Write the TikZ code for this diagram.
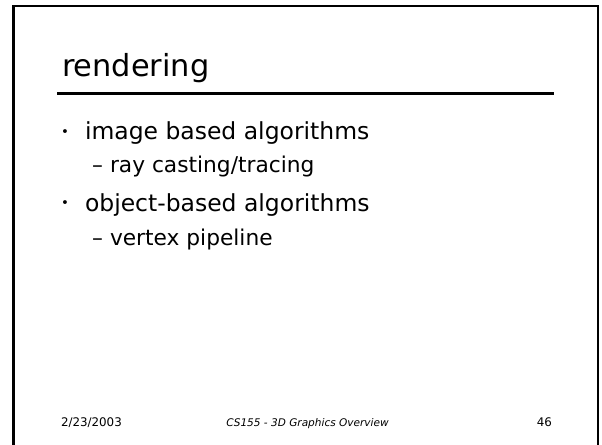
\documentclass[tikz,border=0pt]{standalone}
\usepackage{fontspec}
\setmainfont{DejaVu Sans}
\begin{document}
\begin{tikzpicture}[x=0.75pt,y=-0.75pt,
  every node/.style={inner sep=0pt,outer sep=0pt},
  frameline/.style={line width=2.2pt,line cap=rect},
  titletext/.style={font=\fontsize{22.8pt}{26pt}\selectfont,anchor=base west},
  bodytext/.style={font=\fontsize{17.6pt}{20pt}\selectfont,anchor=base west},
  subtext/.style={font=\fontsize{16.3pt}{19pt}\selectfont,anchor=base west},
  bulletmark/.style={font=\fontsize{10pt}{12pt}\selectfont,anchor=base},
  dashmark/.style={font=\fontsize{16.3pt}{19pt}\selectfont,anchor=base},
  foottext/.style={font=\fontsize{8.9pt}{10pt}\selectfont},
  footmid/.style={font=\fontsize{7.9pt}{10pt}\itshape\selectfont,anchor=base}]
\useasboundingbox (0,0) rectangle (602,445);
\fill[white] (0,0) rectangle (602,445);

% slide frame: left, top and right edges
\coordinate (fbl) at (13.5,446);
\coordinate (ftl) at (13.5,6);
\coordinate (ftr) at (598,6);
\coordinate (fbr) at (598,446);
\draw[frameline] (fbl) -- (ftl) -- (ftr);
\draw[line width=1.6pt] (ftr) -- (fbr);

% title and rule
\node[titletext] (title) at (62,77) {rendering};
\coordinate (ruleL) at (57,93.5);
\coordinate (ruleR) at (554,93.5);
\draw[line width=2.3pt] (ruleL) -- (ruleR);

% bullet list
\node[bulletmark] (b1) at (65,137) {•};
\node[bodytext] (t1) at (85,140) {image based algorithms};
\node[dashmark] (d1) at (97.5,173) {–};
\node[subtext] (s1) at (110,173) {ray casting/tracing};
\node[bulletmark] (b2) at (65,208) {•};
\node[bodytext] (t2) at (85,211) {object-based algorithms};
\node[dashmark] (d2) at (97.5,245) {–};
\node[subtext] (s2) at (110,245) {vertex pipeline};

% footer
\node[foottext,anchor=base west] (date) at (61,426) {2/23/2003};
\node[footmid] (course) at (307.5,426) {CS155 - 3D Graphics Overview};
\node[foottext,anchor=base east] (page) at (552,426) {46};
\end{tikzpicture}
\end{document}
